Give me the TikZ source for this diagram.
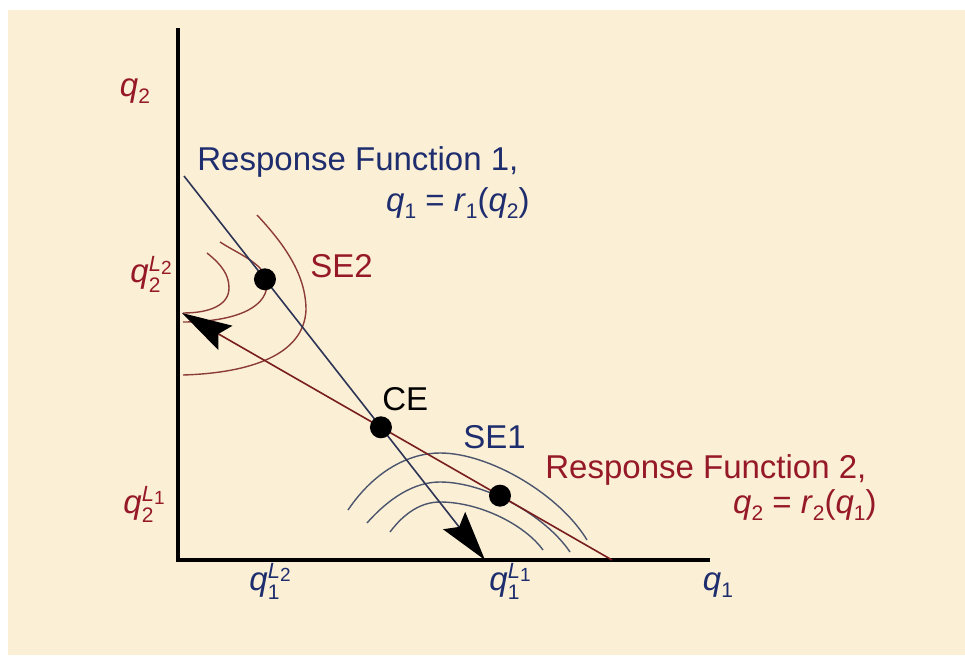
\documentclass[tikz,border=0pt]{standalone}
\usepackage{fontspec}
\setmainfont{Liberation Sans}
\usetikzlibrary{arrows.meta,calc}
\definecolor{paper}{RGB}{251,239,214}
\definecolor{navyl}{RGB}{45,52,85}
\definecolor{redl}{RGB}{120,30,30}
\definecolor{isoR}{RGB}{140,60,55}
\definecolor{isoB}{RGB}{75,85,110}
\definecolor{navyt}{RGB}{30,45,110}
\definecolor{redt}{RGB}{150,25,40}
% italic letter with a lowered index
\newcommand{\ix}[2]{\textit{#1}\raisebox{-3.5pt}{\fontsize{10.5}{10.5}\selectfont #2}}
% q with lowered index and a raised L-index
\newcommand{\qL}[2]{\textit{q}\rlap{\raisebox{-4.5pt}{\fontsize{10.5}{10.5}\selectfont #1}}%
  \raisebox{6pt}{\fontsize{11}{11}\selectfont\textit{L}}%
  \raisebox{4.5pt}{\fontsize{9.5}{9.5}\selectfont #2}}

\begin{document}
\begin{tikzpicture}[x=0.5pt, y=0.5pt,
    axis/.style={draw=black, line width=1.7pt},
    resp1/.style={draw=navyl, line width=0.8pt},
    resp2/.style={draw=redl, line width=0.8pt},
    isoRed/.style={draw=isoR, line width=0.7pt},
    isoBlue/.style={draw=isoB, line width=0.7pt},
    dot/.style={circle, fill=black, minimum size=11pt, inner sep=0pt},
    tag/.style={font=\fontsize{16.5}{19}\selectfont, inner sep=0pt},
    bigtip/.tip={Stealth[length=25pt, width=14pt, inset=4pt, color=black]},
  ]
  \useasboundingbox (0,0) rectangle (965,655);
  \fill[white] (0,0) rectangle (965,655);
  \fill[paper] (8,0) rectangle (965,645);

  %% axes
  \coordinate (O) at (178,95);
  \coordinate (ytop) at (178,627);
  \coordinate (xend) at (710,95);
  \draw[axis] (ytop) -- (O) -- (xend);

  %% isoprofit curves round SE2
  \draw[isoRed] (257,440) .. controls (285,410) and (306,380) .. (306,345)
                .. controls (304,300) and (250,282) .. (183,280);
  \draw[isoRed] (220,413) .. controls (240,400) and (268,390) .. (267,370)
                .. controls (266,345) and (230,333) .. (183,333);
  \draw[isoRed] (207,402) .. controls (222,390) and (229,380) .. (229,367)
                .. controls (229,350) and (210,342) .. (183,342);

  %% isoprofit curves round SE1
  \draw[isoBlue] (348,145) .. controls (375,185) and (410,202) .. (440,202)
                 .. controls (490,202) and (560,160) .. (587,115);
  \draw[isoBlue] (367,132) .. controls (390,158) and (415,173) .. (440,173)
                 .. controls (485,173) and (545,140) .. (570,103);
  \draw[isoBlue] (390,123) .. controls (405,143) and (422,153) .. (440,153)
                 .. controls (480,153) and (525,130) .. (543,105);

  %% response functions
  \coordinate (b1) at (184,479);
  \coordinate (b2) at (485,95);
  \coordinate (r1) at (182,342);
  \coordinate (r2) at (612,95);
  \draw[resp1, -bigtip] (b1) -- (b2);
  \draw[resp2, bigtip-] (r1) -- (r2);

  %% equilibria
  \node[dot] (se2) at ($(b1)!0.269!(b2)$) {};
  \node[dot] (ce) at (intersection of b1--b2 and r1--r2) {};
  \node[dot] (se1) at ($(r1)!0.7395!(r2)$) {};

  %% labels
  \node[tag, text=redt, anchor=base] (lq2) at (135,558) {\ix{q}{2}};
  \node[tag, text=redt, anchor=base east] (lq2L2) at (172,372) {\qL{2}{2}};
  \node[tag, text=redt, anchor=base east] (lq2L1) at (165,142) {\qL{2}{1}};
  \node[tag, text=navyt, anchor=base] (lq1L2) at (270,65) {\qL{1}{2}};
  \node[tag, text=navyt, anchor=base] (lq1L1) at (510,65) {\qL{1}{1}};
  \node[tag, text=navyt, anchor=base] (lq1) at (718,65) {\ix{q}{1}};

  \node[tag, text=navyt, anchor=base west] (rf1) at (197,485) {Response Function 1,};
  \node[tag, text=navyt, anchor=base east] (rf1eq) at (530,444) {\ix{q}{1} = \ix{r}{1}(\ix{q}{2})};
  \node[tag, text=redt, anchor=base west] (rf2) at (545,177) {Response Function 2,};
  \node[tag, text=redt, anchor=base east] (rf2eq) at (877,142) {\ix{q}{2} = \ix{r}{2}(\ix{q}{1})};

  \node[tag, text=redt, anchor=base west] (lse2) at (310,378) {SE2};
  \node[tag, anchor=base west] (lce) at (382,245) {CE};
  \node[tag, text=navyt, anchor=base west] (lse1) at (463,207) {SE1};
\end{tikzpicture}
\end{document}
